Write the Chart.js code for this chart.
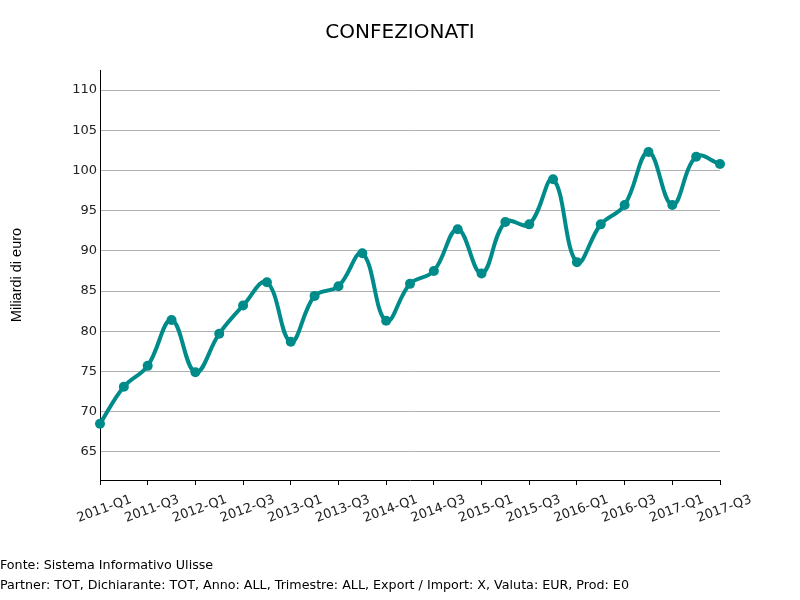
<!DOCTYPE html>
<html>
<head>
<meta charset="utf-8">
<script src="https://cdn.jsdelivr.net/npm/chart.js@4/dist/chart.umd.min.js"></script>
<style>
  body { margin: 0; background: #fff; }
  #wrap { position: relative; width: 800px; height: 600px; }
  .nota { position: absolute; left: 0; font-family: "DejaVu Sans", sans-serif; font-size: 12.7px; color: #000; white-space: nowrap; }
</style>
</head>
<body>
<div id="wrap">
  <canvas id="grafica" width="800" height="600"></canvas>
  <div class="nota" style="top:557px">Fonte: Sistema Informativo Ulisse</div>
  <div class="nota" style="top:577px">Partner: TOT, Dichiarante: TOT, Anno: ALL, Trimestre: ALL, Export / Import: X, Valuta: EUR, Prod: E0</div>
</div>
<script>
// Dati
const trimestri = [
  '2011-Q1', '2011-Q2', '2011-Q3', '2011-Q4',
  '2012-Q1', '2012-Q2', '2012-Q3', '2012-Q4',
  '2013-Q1', '2013-Q2', '2013-Q3', '2013-Q4',
  '2014-Q1', '2014-Q2', '2014-Q3', '2014-Q4',
  '2015-Q1', '2015-Q2', '2015-Q3', '2015-Q4',
  '2016-Q1', '2016-Q2', '2016-Q3', '2016-Q4',
  '2017-Q1', '2017-Q2', '2017-Q3'
];
const valori = [
  68.5, 73.1, 75.7, 81.4,
  74.9, 79.7, 83.2, 86.1,
  78.7, 84.4, 85.6, 89.7,
  81.3, 85.9, 87.5, 92.7,
  87.2, 93.6, 93.3, 98.9,
  88.6, 93.3, 95.7, 102.3,
  95.7, 101.7, 100.8
];
const tickY = [65, 70, 75, 80, 85, 90, 95, 100, 105, 110];

const font = { family: 'DejaVu Sans', size: 13 };

function setupChart() {
  const ctx = document.getElementById('grafica').getContext('2d');
  new Chart(ctx, {
    type: 'line',
    data: {
      labels: trimestri,
      datasets: [{
        label: 'CONFEZIONATI',
        data: valori,
        borderColor: '#008b8b',
        backgroundColor: '#008b8b',
        borderWidth: 4,
        pointRadius: 5,
        pointBorderWidth: 0,
        pointHoverRadius: 5,
        tension: 0.4,
        fill: false
      }]
    },
    options: {
      responsive: false,
      animation: false,
      layout: { padding: 0 },
      plugins: {
        legend: { display: false },
        tooltip: { enabled: false },
        title: {
          display: true,
          text: 'CONFEZIONATI',
          color: '#000',
          font: { family: 'DejaVu Sans', size: 20, weight: 'normal' },
          padding: { top: 21, bottom: 25 }
        }
      },
      scales: {
        x: {
          type: 'category',
          offset: false,
          grid: { display: true, drawOnChartArea: false, color: '#000', tickLength: 5 },
          border: { color: '#000', width: 1 },
          afterBuildTicks: s => { s.ticks = s.ticks.filter((t, i) => i % 2 === 0); },
          afterFit: s => { s.height = 120; },
          ticks: {
            autoSkip: false,
            minRotation: 20,
            maxRotation: 20,
            labelOffset: 31,
            padding: 7,
            color: '#222',
            font: font
          }
        },
        y: {
          min: 61.5,
          max: 112.5,
          afterBuildTicks: s => { s.ticks = tickY.map(v => ({ value: v })); },
          afterFit: s => { s.width = 100; },
          grid: { color: '#b0b0b0', drawTicks: false, lineWidth: 1 },
          border: { color: '#000', width: 1 },
          ticks: { color: '#222', font: font, padding: 3 },
          title: {
            display: true,
            text: 'Miliardi di euro',
            color: '#000',
            font: { family: 'Liberation Sans', size: 14.5 },
            padding: { top: 8, bottom: 0 }
          }
        },
        // spazio vuoto a destra dell'area del grafico
        destra: {
          position: 'right',
          display: true,
          grid: { display: false },
          border: { display: false },
          ticks: { display: false },
          afterFit: s => { s.width = 80; }
        }
      }
    }
  });
}

document.addEventListener('DOMContentLoaded', setupChart);
</script>
</body>
</html>
